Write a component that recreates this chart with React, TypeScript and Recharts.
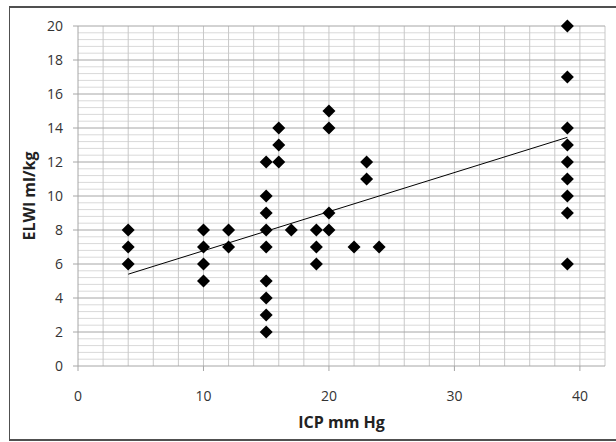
import { ScatterChart, Scatter, XAxis, YAxis, ReferenceLine, Label } from "recharts";

// ICP (mm Hg) and ELWI (ml/kg), one pair per patient point
const icp = [
  4, 4, 4,
  10, 10, 10, 10,
  12, 12,
  15, 15, 15, 15, 15, 15, 15, 15, 15,
  16, 16, 16,
  17,
  19, 19, 19,
  20, 20, 20, 20,
  22,
  23, 23,
  24,
  39, 39, 39, 39, 39, 39, 39, 39, 39,
];
const elwi = [
  8, 7, 6,
  8, 7, 6, 5,
  8, 7,
  12, 10, 9, 8, 7, 5, 4, 3, 2,
  14, 13, 12,
  8,
  8, 7, 6,
  15, 14, 9, 8,
  7,
  12, 11,
  7,
  20, 17, 14, 13, 12, 11, 10, 9, 6,
];
// linear trend line end points
const trendX = [4, 39];
const trendY = [5.4, 13.45];

const xTicks = [0, 10, 20, 30, 40];
const yTicks = [0, 2, 4, 6, 8, 10, 12, 14, 16, 18, 20];

const points = icp.map((x, i) => ({ x, y: elwi[i] }));
const trend = trendX.map((x, i) => ({ x, y: trendY[i] }));

// grid: vertical every 2, horizontal minor every 0.4
const vLines: number[] = [];
for (let v = 2; v <= 42; v += 2) vLines.push(v);
const hMinor: number[] = [];
for (let k = 1; k < 50; k++) if (k % 5 !== 0) hMinor.push(+(k * 0.4).toFixed(1));

const Diamond = (props: any) => {
  const { cx, cy } = props;
  const r = 6.5;
  return <path d={`M${cx},${cy - r}L${cx + r},${cy}L${cx},${cy + r}L${cx - r},${cy}Z`} fill="#000" />;
};

const font = "'Open Sans', sans-serif";

export default function App() {
  return (
    <div style={{ position: "absolute", left: 0, top: 0, width: 616, height: 442, overflow: "hidden", background: "#fff" }}>
      <div
        style={{
          position: "absolute",
          left: 9,
          top: 6,
          width: 640,
          height: 431,
          border: "2px solid #505050",
          borderLeftWidth: 1,
        }}
      />
      <div style={{ position: "absolute", left: 0, top: 0 }}>
        <ScatterChart width={616} height={442} margin={{ top: 26, right: 11, bottom: 0, left: 0 }}>
          <XAxis
            type="number"
            dataKey="x"
            domain={[0, 42]}
            ticks={xTicks}
            height={76}
            axisLine={{ stroke: "#a6a6a6" }}
            tickLine={{ stroke: "#a6a6a6" }}
            tickSize={5}
            tickMargin={20}
            tick={{ fill: "#333", fontSize: 14, fontFamily: font }}
          >
            <Label
              value="ICP mm Hg"
              position="insideBottom"
              offset={14}
              style={{ fill: "#222", fontSize: 16, fontWeight: 700, fontFamily: font }}
            />
          </XAxis>
          <YAxis
            type="number"
            dataKey="y"
            domain={[0, 20]}
            ticks={yTicks}
            width={78}
            axisLine={{ stroke: "#a6a6a6" }}
            tickLine={{ stroke: "#a6a6a6" }}
            tickSize={5}
            tickMargin={10}
            tick={{ fill: "#333", fontSize: 14, fontFamily: font }}
          >
            <Label
              content={({ viewBox }: any) => {
                const x = viewBox.x + 29;
                const y = viewBox.y + viewBox.height / 2;
                return (
                  <text
                    x={x}
                    y={y}
                    transform={`rotate(-90, ${x}, ${y})`}
                    textAnchor="middle"
                    dominantBaseline="central"
                    style={{ fill: "#222", fontSize: 16, fontWeight: 700, fontFamily: font }}
                  >
                    ELWI ml/kg
                  </text>
                );
              }}
            />
          </YAxis>
          {hMinor.map((v) => (
            <ReferenceLine key={"hm" + v} y={v} stroke="#d9d9d9" strokeWidth={1} />
          ))}
          {vLines.map((v) => (
            <ReferenceLine key={"v" + v} x={v} stroke="#c8c8c8" strokeWidth={1} />
          ))}
          {yTicks.slice(1).map((v) => (
            <ReferenceLine key={"hM" + v} y={v} stroke="#a6a6a6" strokeWidth={1} />
          ))}
          <Scatter
            data={trend}
            line={{ stroke: "#000", strokeWidth: 1 }}
            shape={() => <g />}
            isAnimationActive={false}
          />
          <Scatter data={points} shape={<Diamond />} isAnimationActive={false} />
        </ScatterChart>
      </div>
    </div>
  );
}
